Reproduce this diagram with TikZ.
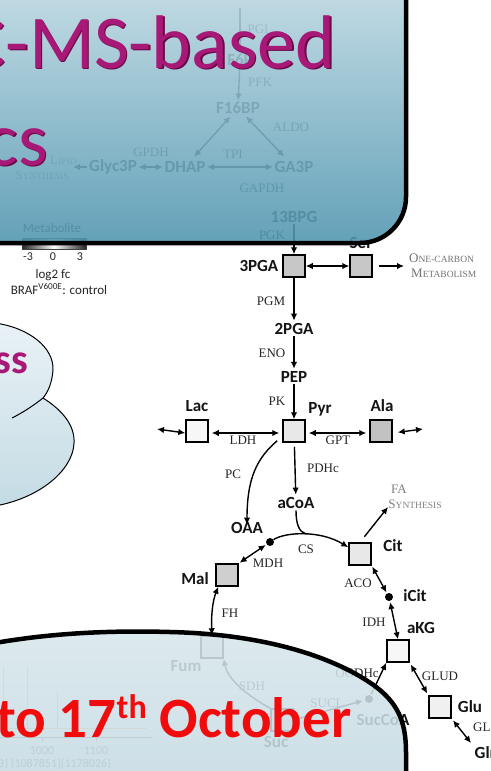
\documentclass[tikz,border=0pt]{standalone}
\usepackage{fontspec}
\setmainfont{Liberation Serif}
\newfontfamily\carl{Carlito}
\usetikzlibrary{arrows.meta}
\definecolor{mag}{RGB}{168,24,118}
\definecolor{magdark}{RGB}{105,8,68}
\definecolor{redtxt}{RGB}{240,12,12}
\definecolor{ptop}{RGB}{208,228,235}
\definecolor{pbot}{RGB}{80,150,176}
\definecolor{qtop}{RGB}{216,231,236}
\definecolor{qbot}{RGB}{191,214,224}
\definecolor{ctop}{RGB}{233,242,246}
\definecolor{cbot}{RGB}{196,219,228}
\newcommand{\fsc}[2]{{\fontsize{13}{14}\selectfont #1}{\fontsize{9.5}{10}\selectfont #2}}
\begin{document}
\begin{tikzpicture}[x=1pt,y=-1pt,
  mbox/.style={draw=black, line width=1.5pt, minimum size=22pt, inner sep=0pt},
  met/.style={font=\carl\bfseries\fontsize{17}{18}\selectfont, text=black!92, inner sep=1.5pt},
  enz/.style={font=\fontsize{13}{14}\selectfont, text=black!85, inner sep=1pt},
  note/.style={font=\fontsize{13}{14}\selectfont, text=black!50, inner sep=0pt, align=left},
  leg/.style={font=\carl\fontsize{13}{14}\selectfont, text=black!85, inner sep=0pt},
  arr/.style={line width=1.4pt, -{Latex[length=7pt,width=6.5pt]}},
  darr/.style={line width=1.4pt, {Latex[length=7pt,width=6.5pt]}-{Latex[length=7pt,width=6.5pt]}},
  ln/.style={line width=1.4pt},
  mdot/.style={circle, fill=black, minimum size=8pt, inner sep=0pt},
  chart/.style={font=\carl\fontsize{12}{13}\selectfont, text=black!55, inner sep=0pt}
]
\useasboundingbox (0,0) rectangle (490,771);
\fill[white] (0,0) rectangle (490,771);

% ---------- faint chart (under the bottom panel) ----------
\draw[orange!70!yellow, line width=0.8pt] (3,667) -- (3,728) (27,667) -- (27,728) (57,692) -- (57,728);
\draw[orange!60, line width=0.6pt] (0,728) -- (147,728);
\draw[black!60, line width=0.8pt] (0,737) -- (152,737) (42,737) -- (42,741) (96,737) -- (96,741);
\node[chart] (ch1) at (42,751) {1000};
\node[chart] (ch2) at (96,751) {1100};
\node[chart, anchor=west] (ch3) at (-2,764) {3\} \{1087851\}\{1178026\}};

% ---------- glycolysis (upper part) ----------
\coordinate (topline) at (240,8);
\node[met] (tf6p) at (240,60) {F6P};
\node[met] (tf16bp) at (238,108) {F16BP};
\node[met] (tglyc) at (113,167) {Glyc3P};
\node[met] (tdhap) at (185,167) {DHAP};
\node[met] (tga3p) at (294,167) {GA3P};
\node[met] (t13bpg) at (294,217) {13BPG};
\coordinate (lipidend) at (73,167);
\node[note, anchor=west] (lipid1) at (50,160) {\fsc{L}{IPID}};
\node[note] (lipid2) at (42,175) {\fsc{S}{YNTHESIS}};
\draw[ln] (topline) -- (tf6p);
\draw[arr] (tf6p) -- (tf16bp);
\draw[darr, shorten <=1pt, shorten >=4pt] (tf16bp) -- (tdhap);
\draw[darr, shorten <=1pt, shorten >=4pt] (tf16bp) -- (tga3p);
\draw[darr] (tglyc) -- (tdhap);
\draw[darr] (tdhap) -- (tga3p);
\draw[arr] (tglyc) -- (lipidend);
\node[enz] (epgi) at (258,29) {PGI};
\node[enz] (epfk) at (260,82) {PFK};
\node[enz] (ealdo) at (291,127) {ALDO};
\node[enz] (egpdh) at (151,152) {GPDH};
\node[enz] (etpi) at (233,154) {TPI};
\node[enz] (egapdh) at (262,188) {GAPDH};
\node[enz] (epgk) at (272,235) {PGK};

% ---------- legend ----------
\node[leg] (lmetab) at (52,228) {Metabolite};
\node[draw=black!75, line width=1pt, minimum width=64pt, minimum height=11pt, inner sep=0pt,
      left color=black!85, right color=black!85, middle color=white] (cbar) at (54,244) {};
\node[leg, font=\carl\fontsize{12}{13}\selectfont] (lm3) at (28,257) {-3};
\node[leg, font=\carl\fontsize{12}{13}\selectfont] (l0) at (53,257) {0};
\node[leg, font=\carl\fontsize{12}{13}\selectfont] (l3) at (80,257) {3};
\node[leg] (llog) at (53,275) {log2 fc};
\node[leg] (lbraf) at (59,289) {BRAF\textsuperscript{V600E}: control};

% ---------- main pathway ----------
\node[mbox, fill=black!22] (b3pga) at (294,266) {};
\draw[arr] (t13bpg) -- (b3pga);
\node[met, anchor=east] (l3pga) at (280,266) {3PGA};
\node[mbox, fill=black!22] (bser) at (361,266) {};
\node[met] (lser) at (361,243) {Ser};
\coordinate (ocend) at (404,266);
\node[note, anchor=west, text=black!55] (oc1) at (409,258) {\fsc{O}{NE-CARBON}};
\node[note, anchor=west, text=black!55] (oc2) at (411,273) {\fsc{M}{ETABOLISM}};
\draw[darr] (b3pga) -- (bser);
\draw[arr, shorten <=6pt] (bser) -- (ocend);

\node[met] (t2pga) at (294,329) {2PGA};
\node[met] (tpep) at (294,377) {PEP};
\draw[arr, shorten >=1pt] (b3pga) -- (t2pga);
\draw[arr, shorten >=1pt] (t2pga) -- (tpep);
\node[enz] (epgm) at (271,301) {PGM};
\node[enz] (eeno) at (272,353) {ENO};
\node[enz] (epk) at (277,401) {PK};

\node[mbox, fill=black!9] (bpyr) at (294,431) {};
\node[mbox, fill=black!3] (blac) at (197,431) {};
\node[mbox, fill=black!24] (bala) at (381,431) {};
\node[met] (lpyr) at (320,409) {Pyr};
\node[met] (llac) at (197,406) {Lac};
\node[met] (lala) at (382,406) {Ala};
\draw[arr] (tpep) -- (bpyr);
\coordinate (lacfree) at (157,429);
\coordinate (alafree) at (423,429);
\draw[darr] (lacfree) -- ([yshift=-2pt]blac.west);
\draw[darr, shorten <=3pt, shorten >=3pt] ([yshift=-2pt]blac.east) -- ([yshift=-2pt]bpyr.west);
\draw[darr, shorten <=3pt, shorten >=3pt] ([yshift=-2pt]bpyr.east) -- ([yshift=-2pt]bala.west);
\draw[darr, shorten <=5pt] ([yshift=-2pt]bala.east) -- (alafree);
\node[enz] (eldh) at (243,440) {LDH};
\node[enz] (egpt) at (338,440) {GPT};

\node[met] (tacoa) at (296,503) {aCoA};
\node[met] (toaa) at (247,528) {OAA};
\draw[arr, shorten <=4pt, shorten >=1pt] (bpyr) -- (tacoa);
\draw[arr] ([xshift=-5pt,yshift=2pt]bpyr.south west) .. controls (257,458) and (247,478) .. ([yshift=-4pt]toaa.north);
\node[enz] (epdhc) at (323,468) {PDHc};
\node[enz] (epc) at (233,474) {PC};

\node[mdot] (doaa) at (270,542) {};
\node[mbox, fill=black!9] (bcit) at (360,554) {};
\node[met] (lcit) at (393,546) {Cit};
\coordinate (csmid) at (306,534);
\draw[arr] (doaa) .. controls (285,532) and (320,530) .. (bcit.150);
\draw[ln] (tacoa.south) .. controls (296,524) and (299,532) .. (csmid);
\node[enz] (ecs) at (306,549) {CS};

\coordinate (faend) at (388,507);
\draw[arr, shorten <=7pt] (bcit.north) -- (faend);
\node[note, text=black!50] (fa1) at (399,489) {\fsc{FA}{}};
\node[note, text=black!50] (fa2) at (415,504) {\fsc{S}{YNTHESIS}};

\node[mbox, fill=black!19] (bmal) at (227,575) {};
\node[met] (lmal) at (195,579) {Mal};
\draw[darr, shorten <=1pt, shorten >=1pt] (bmal.north east) -- (doaa);
\node[enz] (emdh) at (268,563) {MDH};

\node[mdot] (dicit) at (389,597) {};
\node[met] (licit) at (415,596) {iCit};
\draw[darr, shorten <=1pt, shorten >=1pt] (bcit.south east) -- (dicit);
\node[enz] (eaco) at (358,583) {ACO};

\node[mbox, fill=black!3] (bakg) at (398,651) {};
\node[met] (lakg) at (421,628) {aKG};
\draw[darr, shorten <=1pt] (dicit) -- (bakg.north);
\node[enz] (eidh) at (374,622) {IDH};

\node[mbox, fill=black!6] (bglu) at (440,707) {};
\node[met] (lglu) at (470,707) {Glu};
\draw[darr, shorten <=2pt, shorten >=2pt] (bakg.south east) -- (bglu.north west);
\node[enz] (eglud) at (440,676) {GLUD};
\coordinate (glsend) at (471,743);
\draw[darr, shorten <=2pt] (bglu.south east) -- (glsend);
\node[enz, anchor=west] (egls) at (472,727) {GLS};
\node[met, anchor=west] (lgln) at (473,753) {Gln};

\node[mbox, fill=black!12] (bfum) at (212,647) {};
\node[met] (lfum) at (186,666) {Fum};
\draw[darr] ([xshift=3pt]bmal.south west) .. controls (213,600) and (211,614) .. (bfum.north);
\node[enz] (efh) at (230,613) {FH};

\node[mbox, fill=black!10] (bsuc) at (282,720) {};
\node[met] (lsuc) at (276,742) {Suc};
\draw[arr] (bsuc.north west) .. controls (255,700) and (228,682) .. (bfum.south east);
\node[enz] (esdh) at (252,686) {SDH};
\node[mdot] (dsuccoa) at (369,699) {};
\node[met] (lsuccoa) at (383,720) {SucCoA};
\draw[arr, shorten >=2pt] (bsuc.east) -- (dsuccoa);
\node[enz] (esucl) at (327,703) {SUCL};
\draw[arr, shorten <=1pt] (dsuccoa) -- (bakg.south west);
\node[enz] (eogdhc) at (357,673) {OGDHc};

% ---------- top panel ----------
\path[draw=black, line width=4.5pt, top color=ptop, bottom color=pbot, fill opacity=0.89]
  (-60,-60) -- (406,-60) -- (406,150) [rounded corners=46pt] -- (406,243) -- (300,243) [sharp corners] -- (-60,243) -- cycle;

% ---------- bottom panel ----------
\path[draw=black, line width=4.5pt, top color=qtop, bottom color=qbot, fill opacity=0.87]
  (-40,650) .. controls (30,634) and (100,630) .. (170,632)
  .. controls (260,634) and (330,655) .. (372,684)
  .. controls (398,702) and (406,722) .. (406,752)
  -- (406,830) -- (-60,830) -- cycle;

% ---------- cloud ----------
\path[top color=ctop, bottom color=cbot]
  (-5,323) .. controls (30,328) and (54,348) .. (53,370)
  .. controls (52,383) and (48,392) .. (43,398)
  .. controls (62,410) and (75,425) .. (74,443)
  .. controls (73,470) and (40,498) .. (-5,506) -- cycle;
\draw[line width=1pt] (-5,323) .. controls (30,328) and (54,348) .. (53,370)
  .. controls (52,383) and (48,392) .. (43,398)
  .. controls (62,410) and (75,425) .. (74,443)
  .. controls (73,470) and (40,498) .. (-5,506);
\draw[line width=1pt] (43,398) .. controls (33,406) and (22,413) .. (12,418);
\node[anchor=base east, inner sep=0pt, font=\carl\bfseries\fontsize{42}{44}\selectfont, text=mag] (tss) at (28,373) {ss};

% ---------- titles ----------
\node[anchor=base east, inner sep=0pt, font=\carl\fontsize{76}{80}\selectfont, text=magdark] (title1s) at (337.5,69.5) {C-MS-based};
\node[anchor=base east, inner sep=0pt, font=\carl\fontsize{76}{80}\selectfont, text=mag] (title1) at (336,68) {C-MS-based};
\node[anchor=base east, inner sep=0pt, font=\carl\fontsize{76}{80}\selectfont, text=magdark] (title2s) at (49.5,166.5) {cs};
\node[anchor=base east, inner sep=0pt, font=\carl\fontsize{76}{80}\selectfont, text=mag] (title2) at (48,165) {cs};

\node[anchor=base west, inner sep=0pt, font=\carl\bfseries\fontsize{57}{60}\selectfont, text=redtxt] (datetext) at (-4,737)
  {to 17\raisebox{19pt}{\fontsize{34}{34}\selectfont th} October};
\end{tikzpicture}
\end{document}
